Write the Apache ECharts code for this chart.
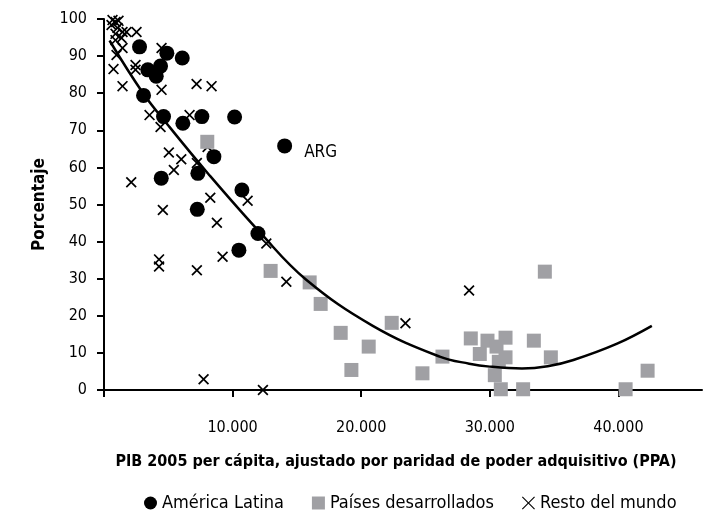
<!DOCTYPE html>
<html>
<head>
<meta charset="utf-8">
<script src="https://cdn.jsdelivr.net/npm/echarts@6/dist/echarts.min.js"></script>
<style>
html,body{margin:0;padding:0;background:#fff;}
#chart{width:706px;height:519px;}
</style>
</head>
<body>
<div id="chart"></div>
<script>
// América Latina: [PIB per cápita PPA, porcentaje]
var americaLatina = [
  [2763, 92.5], [4887, 90.8], [6085, 89.5], [3409, 86.3], [4062, 84.6],
  [4397, 87.3], [3074, 79.4], [4630, 73.7], [6132, 71.9], [7611, 73.7],
  [10155, 73.6], [8545, 62.9], [7300, 58.4], [4451, 57.1], [10724, 53.9],
  [7253, 48.7], [11969, 42.2], [10490, 37.7]
];
var argentina = [14046, 65.8];
var argLabel = "ARG";

var paisesDesarrollados = [
  [8031, 66.9], [12957, 32.1], [15992, 29.0], [16848, 23.2], [18405, 15.4],
  [20583, 11.7], [19237, 5.4], [22373, 18.1], [24762, 4.5], [26319, 9.0],
  [28521, 13.9], [29820, 13.3], [31222, 14.1], [33424, 13.3], [29222, 9.7],
  [30522, 11.7], [31222, 8.8], [30700, 7.6], [30389, 4.0], [30856, 0.2],
  [32591, 0.2], [34279, 31.9], [34746, 8.8], [42270, 5.2], [40560, 0.2]
];

var restoDelMundo = [
  [661, 99.7], [895, 99.2], [1128, 99.5], [584, 98.4], [1050, 97.6],
  [895, 96.0], [1440, 96.5], [1751, 96.5], [2529, 96.5], [1362, 94.9],
  [895, 94.3], [1440, 92.2], [973, 90.3], [4475, 92.2], [739, 86.5],
  [2451, 87.6], [2451, 86.3], [1440, 81.9], [4475, 80.9], [7198, 82.5],
  [8365, 81.9], [3541, 74.1], [4397, 70.9], [6654, 74.1], [5043, 64.0],
  [6008, 62.2], [5432, 59.3], [7222, 61.2], [8054, 65.5], [2117, 56.0],
  [4576, 48.5], [8265, 51.8], [11167, 51.0], [8778, 45.1], [12622, 39.5],
  [9222, 35.9], [4280, 35.2], [4280, 33.3], [7222, 32.3], [14179, 29.2],
  [7743, 2.9], [12358, 0.0], [23440, 18.0], [28389, 26.8]
];

// Línea de tendencia
var tendencia = [
  [430, 94.2], [3000, 80.2], [5000, 71.3], [8100, 58.3], [12200, 42.2],
  [15700, 29.8], [20900, 17.3], [26100, 9.0], [28400, 7.1], [30000, 6.3],
  [32500, 5.8], [34500, 6.4], [36500, 8.1], [39900, 12.5], [42600, 17.3]
];

var xTickLabels = ["", "10.000", "20.000", "30.000", "40.000"];
var seriesNames = ["América Latina", "Países desarrollados", "Resto del mundo"];
var xAxisTitle = "PIB 2005 per cápita, ajustado por paridad de poder adquisitivo (PPA)";
var yAxisTitle = "Porcentaje";

var FONT = '"Liberation Sans Narrow", "DejaVu Sans Condensed", "Liberation Sans", sans-serif';
var crossPath = 'path://M0,1.1 L1.1,0 L5,3.9 L8.9,0 L10,1.1 L6.1,5 L10,8.9 L8.9,10 L5,6.1 L1.1,10 L0,8.9 L3.9,5 Z';

var chart = echarts.init(document.getElementById('chart'), null, {renderer: 'canvas'});

var latinData = americaLatina.map(function (p) { return p; });
latinData.push({
  value: argentina,
  label: {
    show: true, formatter: argLabel, position: 'right', distance: 12,
    color: '#000', fontFamily: FONT, fontSize: 17, offset: [0, 7]
  }
});

chart.setOption({
  animation: false,
  backgroundColor: '#fff',
  textStyle: {fontFamily: FONT, color: '#000'},
  grid: {left: 104, right: 4, top: 19, bottom: 129, containLabel: false, outerBoundsMode: 'none'},
  legend: {
    bottom: 2, left: 139,
    itemWidth: 13, itemHeight: 13, itemGap: 28,
    textStyle: {fontFamily: FONT, fontSize: 18, color: '#000'},
    data: [
      {name: seriesNames[0], icon: 'circle'},
      {name: seriesNames[1], icon: 'rect'},
      {name: seriesNames[2], icon: 'path://M0,0.6 L0.6,0 L5,4.4 L9.4,0 L10,0.6 L5.6,5 L10,9.4 L9.4,10 L5,5.6 L0.6,10 L0,9.4 L4.4,5 Z'}
    ]
  },
  xAxis: {
    type: 'value', min: 0, max: 46500, interval: 10000,
    name: xAxisTitle, nameLocation: 'middle', nameGap: 64,
    nameTextStyle: {fontFamily: FONT, fontSize: 16, fontWeight: 'bold', color: '#000', padding: [0, 14, 0, 0]},
    axisLine: {show: true, onZero: false, lineStyle: {color: '#000', width: 2}},
    axisTick: {show: true, length: 7, lineStyle: {color: '#000', width: 2}},
    splitLine: {show: false},
    axisLabel: {
      margin: 30, fontFamily: FONT, fontSize: 16, color: '#000',
      showMaxLabel: false,
      formatter: function (v) { var i = Math.round(v / 10000); return xTickLabels[i] || ''; }
    }
  },
  yAxis: {
    type: 'value', min: 0, max: 100, interval: 10,
    name: yAxisTitle, nameLocation: 'middle', nameGap: 56, nameRotate: 90,
    nameTextStyle: {fontFamily: FONT, fontSize: 17, fontWeight: 'bold', color: '#000'},
    axisLine: {show: true, lineStyle: {color: '#000', width: 2}},
    axisTick: {show: true, length: 7, lineStyle: {color: '#000', width: 2}},
    splitLine: {show: false},
    axisLabel: {margin: 17, fontFamily: FONT, fontSize: 16, color: '#000'}
  },
  series: [
    {
      name: seriesNames[2], type: 'scatter', data: restoDelMundo,
      symbol: crossPath, symbolSize: 11, z: 2,
      itemStyle: {color: '#000', opacity: 1}
    },
    {
      name: seriesNames[1], type: 'scatter', data: paisesDesarrollados,
      symbol: 'rect', symbolSize: 14, z: 3,
      itemStyle: {color: '#a0a0a4', opacity: 1}
    },
    {
      name: seriesNames[0], type: 'scatter', data: latinData,
      symbol: 'circle', symbolSize: 15, z: 4,
      itemStyle: {color: '#000', opacity: 1}
    },
    {
      name: 'tendencia', type: 'line', data: tendencia,
      smooth: 0.4, showSymbol: false, symbol: 'none', z: 5,
      lineStyle: {color: '#000', width: 2.5},
      silent: true
    }
  ]
});
</script>
</body>
</html>
